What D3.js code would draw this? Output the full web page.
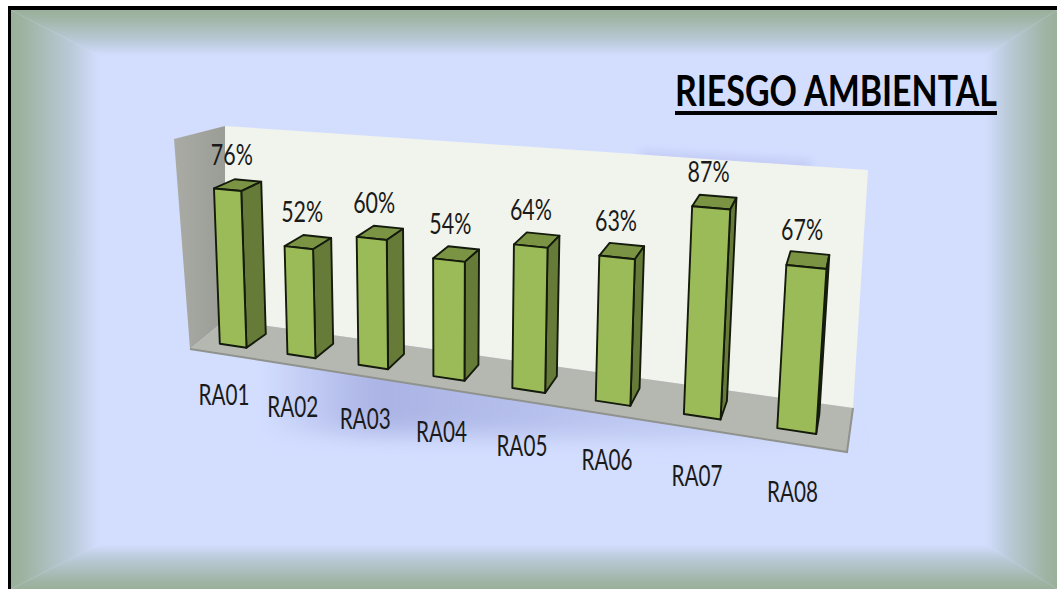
<!DOCTYPE html>
<html><head><meta charset="utf-8">
<script src="https://cdn.jsdelivr.net/npm/d3@7"></script>
<style>html,body{margin:0;padding:0;background:#fff;overflow:hidden}svg{display:block}
text{font-family:Lato,"Noto Sans",sans-serif}</style></head>
<body><svg id="c" width="1057" height="589"></svg>
<script>
const categories = ["RA01","RA02","RA03","RA04","RA05","RA06","RA07","RA08"];
const values = [76,52,60,54,64,63,87,67];
const titleText = "RIESGO AMBIENTAL";

const svg = d3.select("#c");
const defs = svg.append("defs");
const W=1057,H=589;
const fr={x0:11,y0:10,x1:1057,y1:589}, inn={x0:100,y0:56,x1:985,y1:544};
const edge="#9ab09b", core="#d3deff", mid="#bbcad9";
const bevelStops=[[0,edge],[0.14,"#9fb3a2"],[0.68,mid],[1,core]];

function grad(id,x1,y1,x2,y2,stops){
  const g=defs.append("linearGradient").attr("id",id).attr("gradientUnits","userSpaceOnUse")
    .attr("x1",x1).attr("y1",y1).attr("x2",x2).attr("y2",y2);
  stops.forEach(s=>g.append("stop").attr("offset",s[0]).attr("stop-color",s[1]).attr("stop-opacity",s[2]==null?1:s[2]));
}
grad("gL",fr.x0,0,inn.x0,0,bevelStops);
grad("gR",fr.x1,0,inn.x1,0,bevelStops);
grad("gT",0,fr.y0,0,inn.y0,bevelStops);
grad("gB",0,fr.y1,0,inn.y1,bevelStops);
grad("gWallL",174,0,225,0,[[0,"#a9aba4"],[1,"#9a9d96"]]);
grad("gShadow",258,0,860,0,[[0,"#aab3e4",0],[0.2,"#aab3e4",1],[0.55,"#aab3e4",0.6],[1,"#aab3e4",0.25]]);
function blur(id,s){defs.append("filter").attr("id",id).attr("x","-20%").attr("y","-60%").attr("width","140%").attr("height","220%")
  .append("feGaussianBlur").attr("stdDeviation",s);}
blur("blur",11);blur("blurS",5);

const pts=a=>a.map(p=>p.join(",")).join(" ");
svg.append("rect").attr("width",W).attr("height",H).attr("fill","#fff");
svg.append("rect").attr("x",fr.x0).attr("y",fr.y0).attr("width",fr.x1-fr.x0).attr("height",fr.y1-fr.y0).attr("fill",core);
[["gL",[[fr.x0,fr.y0],[inn.x0,inn.y0],[inn.x0,inn.y1],[fr.x0,fr.y1]]],
 ["gR",[[fr.x1,fr.y0],[inn.x1,inn.y0],[inn.x1,inn.y1],[fr.x1,fr.y1]]],
 ["gT",[[fr.x0,fr.y0],[fr.x1,fr.y0],[inn.x1,inn.y0],[inn.x0,inn.y0]]],
 ["gB",[[fr.x0,fr.y1],[fr.x1,fr.y1],[inn.x1,inn.y1],[inn.x0,inn.y1]]]
].forEach(d=>svg.append("polygon").attr("points",pts(d[1])).attr("fill",`url(#${d[0]})`));
svg.append("rect").attr("x",8).attr("y",6).attr("width",1049).attr("height",4).attr("fill","#000");
svg.append("rect").attr("x",8).attr("y",6).attr("width",3).attr("height",583).attr("fill","#000");

// chart box corners on screen; the camera for the bars is calibrated on them (X, Y, Z each 0..1)
const A=[190,349],B=[847,452],C=[853,408],D=[225,320],E=[225,126],F=[868,170],G=[174,139];
const calib=[[0,0,0,A],[1,0,0,B],[1,0,1,C],[0,0,1,D],[0,1,1,E],[1,1,1,F],[0,1,0,G]];
function solve(M0,b){
  const n=b.length,M=M0.map((r,i)=>[...r,b[i]]);
  for(let c=0;c<n;c++){
    let m=c;for(let r=c+1;r<n;r++)if(Math.abs(M[r][c])>Math.abs(M[m][c]))m=r;
    [M[c],M[m]]=[M[m],M[c]];
    for(let r=0;r<n;r++){if(r===c)continue;const f=M[r][c]/M[c][c];for(let k=c;k<=n;k++)M[r][k]-=f*M[c][k];}
  }
  return M.map((r,i)=>r[n]/r[i]);
}
const rows=[],rhs=[];
calib.forEach(([X,Y,Z,s])=>{
  const u=s[0]/1000,v=s[1]/1000;
  rows.push([X,Y,Z,1,0,0,0,0,-u*X,-u*Y,-u*Z]);rhs.push(u);
  rows.push([0,0,0,0,X,Y,Z,1,-v*X,-v*Y,-v*Z]);rhs.push(v);
});
const ATA=d3.range(11).map(i=>d3.range(11).map(j=>d3.sum(rows,r=>r[i]*r[j])+(i===j?1e-9:0)));
const ATb=d3.range(11).map(i=>d3.sum(rows,(r,k)=>r[i]*rhs[k]));
const p=solve(ATA,ATb);
function project(X,Y,Z){
  const w=p[8]*X+p[9]*Y+p[10]*Z+1;
  return [1000*(p[0]*X+p[1]*Y+p[2]*Z+p[3])/w,1000*(p[4]*X+p[5]*Y+p[6]*Z+p[7])/w];
}
const xBand=d3.scaleBand().domain(categories).range([0,1]).paddingInner(0.6).paddingOuter(0.33);
const yVal=d3.scaleLinear().domain([0,100]).range([0,1]);
const zFront=0.27,zBack=0.75;

// soft shadows behind the chart
svg.append("polygon").attr("points",pts([[268,335],[860,440],[760,440],[268,432]]))
  .attr("fill","url(#gShadow)").attr("filter","url(#blur)");
svg.append("polygon").attr("points",pts([[640,150],[812,160],[812,176],[640,165]]))
  .attr("fill","#c4ccf6").attr("filter","url(#blurS)");

// box
svg.append("polygon").attr("points",pts([D,C,F,E])).attr("fill","#f1f4ec");
svg.append("polygon").attr("points",pts([A,D,E,G])).attr("fill","url(#gWallL)");
svg.append("polygon").attr("points",pts([A,B,C,D])).attr("fill","#b5b8b0");
svg.append("path").attr("d",d3.line()([A,B,C])).attr("fill","none").attr("stroke","#8f928d").attr("stroke-width",2);

// bars
const data=categories.map((c,i)=>({c,v:values[i]}));
const bars=svg.append("g").selectAll("g").data(data).join("g")
  .attr("stroke","#141a0c").attr("stroke-width",1.9).attr("stroke-linejoin","round");
const xl=d=>xBand(d.c), xr=d=>xBand(d.c)+xBand.bandwidth(), yt=d=>yVal(d.v);
bars.append("polygon").attr("fill","#7a9443").attr("points",d=>pts([project(xl(d),yt(d),zFront),project(xr(d),yt(d),zFront),project(xr(d),yt(d),zBack),project(xl(d),yt(d),zBack)]));
bars.append("polygon").attr("fill","#667b38").attr("points",d=>pts([project(xr(d),0,zFront),project(xr(d),0,zBack),project(xr(d),yt(d),zBack),project(xr(d),yt(d),zFront)]));
bars.append("polygon").attr("fill","#9bbb59").attr("points",d=>pts([project(xl(d),0,zFront),project(xr(d),0,zFront),project(xr(d),yt(d),zFront),project(xl(d),yt(d),zFront)]));

// squeeze a text to a given width, the way the narrower original face sets it
function fit(sel,width,posFn,anchor){
  sel.attr("text-anchor",anchor).each(function(d){
    const k=width/this.getComputedTextLength(),q=posFn(d);
    d3.select(this).attr("transform",`translate(${q[0]},${q[1]}) scale(${k},1)`);
  });
}
const cx=d=>xBand(d.c)+xBand.bandwidth()/2;
const valueSel=svg.append("g").selectAll("text").data(data).join("text")
  .attr("font-size",28).attr("fill","#1a1a1a").text(d=>d.v+"%");
fit(valueSel,42,d=>{const q=project(cx(d),yt(d),(zFront+zBack)/2);return [q[0]-6,q[1]-20];},"middle");
const catSel=svg.append("g").selectAll("text").data(data).join("text")
  .attr("font-size",28).attr("fill","#1a1a1a").text(d=>d.c);
fit(catSel,51,d=>{const q=project(cx(d),yVal(-20),0);return [q[0]+1,q[1]+11];},"middle");
// title
const titleSel=svg.append("text").datum(titleText).attr("font-size",42).attr("font-weight",700).attr("fill","#000").text(d=>d);
fit(titleSel,322,()=>[675,106],"start");
svg.append("line").attr("x1",675).attr("x2",997).attr("y1",113).attr("y2",113).attr("stroke","#000").attr("stroke-width",4);
</script></body></html>
